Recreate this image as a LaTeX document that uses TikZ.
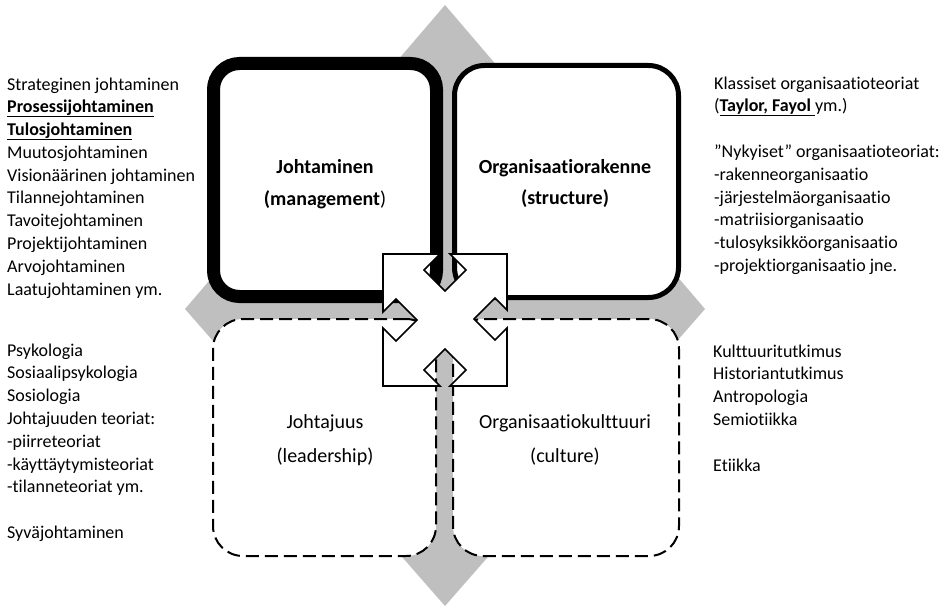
\documentclass[tikz,border=0pt]{standalone}
\usepackage{fontspec}
\setmainfont{Carlito}[Ligatures={NoCommon}]
\definecolor{diagray}{RGB}{191,191,191}
% underline at a fixed depth below the baseline
\newcommand{\uln}[1]{\setbox0=\hbox{#1}\rlap{\rule[-4.4pt]{\wd0}{1.3pt}}\box0}
\newcommand{\listfont}{\fontsize{18pt}{22.8pt}\selectfont}
\begin{document}
\begin{tikzpicture}[x=1pt,y=-1pt,
  mgmtbox/.style={draw=black, line width=13pt, fill=white, rounded corners=26pt, inner sep=0pt},
  structbox/.style={draw=black, line width=5pt, fill=white, rounded corners=30pt, inner sep=0pt},
  softbox/.style={draw=black, line width=2pt, fill=white, rounded corners=30pt, dash pattern=on 13pt off 6pt, inner sep=0pt},
  hub/.style={draw=black, line width=1.6pt, fill=white, line join=miter},
  txt/.style={inner sep=0pt, anchor=base west, text=black},
  lbl/.style={inner sep=0pt, anchor=base, text=black}]
\useasboundingbox (0,0) rectangle (948,610);

% background diamond
\fill[diagray] (445,5) -- (705,309) -- (445,606) -- (185,309) -- cycle;

% the four quadrants
\node[mgmtbox, minimum width=223pt, minimum height=233pt] (mgmt) at (325,180) {};
\node[structbox, minimum width=224pt, minimum height=232pt] (struct) at (566.5,181.5) {};
\node[softbox, minimum width=223pt, minimum height=237pt] (lead) at (324.5,437.5) {};
\node[softbox, minimum width=226pt, minimum height=237pt] (cult) at (566,437.5) {};

% central hub with four notched arrow heads
\draw[hub] (383,254) -- (440,254) -- (424,270) -- (445,291) -- (466,270) -- (450,254)
  -- (507,254) -- (507,310) -- (495,298) -- (474,319) -- (495,340) -- (507,328)
  -- (507,386) -- (450,386) -- (466,370) -- (445,349) -- (424,370) -- (440,386)
  -- (383,386) -- (383,328) -- (396,341) -- (417,320) -- (396,299) -- (383,312) -- cycle;

% quadrant titles
\node[lbl] (mgmtlbl) at (325,173) {\parbox[t]{220pt}{\centering\fontsize{20pt}{32pt}\selectfont
  \textbf{Johtaminen}\\\textbf{(management})}};
\node[lbl] (structlbl) at (565,173) {\parbox[t]{220pt}{\centering\fontsize{20pt}{31pt}\selectfont
  \textbf{Organisaatiorakenne}\\\textbf{(structure)}}};
\node[lbl] (leadlbl) at (325,428) {\parbox[t]{220pt}{\centering\fontsize{20pt}{34pt}\selectfont
  Johtajuus\\(leadership)}};
\node[lbl] (cultlbl) at (565,428) {\parbox[t]{220pt}{\centering\fontsize{20pt}{34pt}\selectfont
  Organisaatiokulttuuri\\(culture)}};

% side lists
\node[txt] (mgmtlist) at (7,90) {\parbox[t]{230pt}{\listfont
  Strateginen johtaminen\\
  \uln{\textbf{Prosessijohtaminen}}\\
  \uln{\textbf{Tulosjohtaminen}}\\
  Muutosjohtaminen\\
  Visionäärinen johtaminen\\
  Tilannejohtaminen\\
  Tavoitejohtaminen\\
  Projektijohtaminen\\
  Arvojohtaminen\\
  Laatujohtaminen ym.}};

\node[txt] (structlist) at (714,89) {\parbox[t]{234pt}{\listfont
  Klassiset organisaatioteoriat\\
  (\uln{\textbf{Taylor, Fayol} }ym.)\\
  \mbox{}\\
  ”Nykyiset” organisaatioteoriat:\\
  -rakenneorganisaatio\\
  -järjestelmäorganisaatio\\
  -matriisiorganisaatio\\
  -tulosyksikköorganisaatio\\
  -projektiorganisaatio jne.}};

\node[txt] (leadlist) at (7,356) {\parbox[t]{230pt}{\listfont
  Psykologia\\
  Sosiaalipsykologia\\
  Sosiologia\\
  Johtajuuden teoriat:\\
  -piirreteoriat\\
  -käyttäytymisteoriat\\
  -tilanneteoriat ym.\\
  \mbox{}\\
  Syväjohtaminen}};

\node[txt] (cultlist) at (713,357) {\parbox[t]{234pt}{\listfont
  Kulttuuritutkimus\\
  Historiantutkimus\\
  Antropologia\\
  Semiotiikka\\
  \mbox{}\\
  Etiikka}};
\end{tikzpicture}
\end{document}
